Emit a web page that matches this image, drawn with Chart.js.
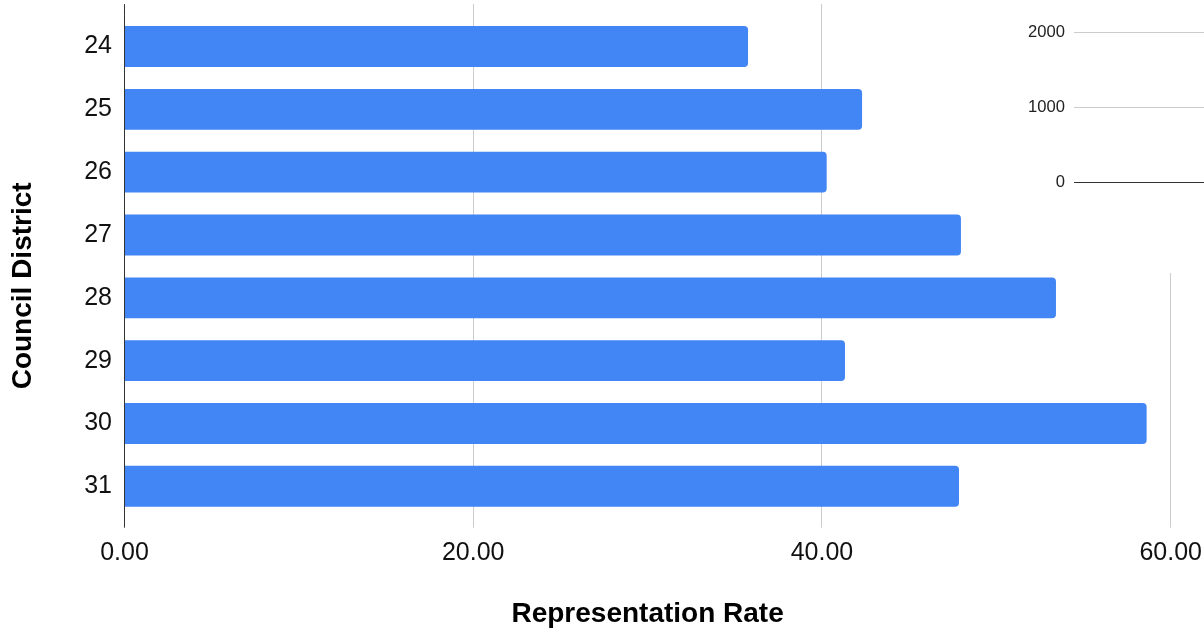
<!DOCTYPE html>
<html>
<head>
<meta charset="utf-8">
<script src="https://cdn.jsdelivr.net/npm/chart.js@4"></script>
<style>
body { margin: 0; background: #fff; }
#wrap { position: relative; width: 1204px; height: 631px; }
#inset { position: absolute; left: 1000px; top: 0; width: 204px; height: 273px; background: #fff; }
</style>
</head>
<body>
<div id="wrap">
    <canvas id="rates" width="1204" height="631"></canvas>
    <div id="inset"><canvas id="insetChart" width="204" height="273"></canvas></div>
</div>
<script>
// district labels and the rate
const districts = ['24', '25', '26', '27', '28', '29', '30', '31']
const repRates = [35.76, 42.30, 40.27, 47.97, 53.42, 41.32, 58.62, 47.86]
const rateTicks = [0, 20, 40, 60]
// the leftover axis of another chart that sits in the top right corner
const insetTicks = [0, 1000, 2000]

const fontFam = "'Liberation Sans', Arial, Helvetica, sans-serif"

function gridColor(ctx){
    if(ctx.tick && ctx.tick.value == 0){
        return '#333'
    }
    return '#ccc'
}

const ctx = document.getElementById('rates').getContext('2d')
const ratesChart = new Chart(ctx, {
    type: 'bar',
    data: {
        labels: districts,
        datasets: [{
            label: 'Representation Rate',
            data: repRates,
            backgroundColor: '#4285f4',
            borderRadius: 4,
            borderSkipped: 'start',
            barPercentage: 0.65,
            categoryPercentage: 1
        }]
    },
    options: {
        indexAxis: 'y',
        responsive: false,
        animation: false,
        layout: {
            padding: {top: 4.1, right: 33.3, bottom: 0, left: 0}
        },
        plugins: {
            legend: {display: false},
            tooltip: {enabled: false}
        },
        scales: {
            x: {
                position: 'bottom',
                min: rateTicks[0],
                max: rateTicks[rateTicks.length - 1],
                ticks: {
                    stepSize: rateTicks[1] - rateTicks[0],
                    padding: 2,
                    maxRotation: 0,
                    color: '#111',
                    font: {family: fontFam, size: 25, lineHeight: 1.84},
                    callback: v => Number(v).toFixed(2)
                },
                grid: {color: gridColor, tickLength: 10},
                border: {display: false},
                title: {
                    display: true,
                    text: 'Representation Rate',
                    color: '#000',
                    font: {family: fontFam, size: 28, weight: 'bold'},
                    padding: {top: 19.7, bottom: 0}
                }
            },
            xTop: {
                axis: 'x',
                position: 'top',
                min: rateTicks[0],
                max: rateTicks[rateTicks.length - 1],
                ticks: {display: false, stepSize: rateTicks[1] - rateTicks[0]},
                grid: {color: gridColor, tickLength: 11, drawOnChartArea: false},
                border: {display: false}
            },
            y: {
                ticks: {
                    padding: 0,
                    color: '#111',
                    font: {family: fontFam, size: 25}
                },
                grid: {drawOnChartArea: false, tickLength: 12.5, tickColor: 'rgba(0,0,0,0)'},
                border: {display: false},
                title: {
                    display: true,
                    text: 'Council District     ',
                    color: '#000',
                    font: {family: fontFam, size: 28, weight: 'bold'},
                    padding: {top: 6.2, bottom: 44.4}
                }
            }
        }
    }
})

const insetctx = document.getElementById('insetChart').getContext('2d')
const insetChart = new Chart(insetctx, {
    type: 'line',
    data: {
        labels: [''],
        datasets: [{data: [], pointRadius: 0}]
    },
    options: {
        responsive: false,
        animation: false,
        layout: {
            padding: {top: 32.3, right: 0, bottom: 90.7, left: 19.1}
        },
        plugins: {
            legend: {display: false},
            tooltip: {enabled: false}
        },
        scales: {
            x: {display: false},
            y: {
                min: insetTicks[0],
                max: insetTicks[insetTicks.length - 1],
                ticks: {
                    stepSize: insetTicks[1] - insetTicks[0],
                    padding: 9,
                    color: '#222',
                    font: {family: fontFam, size: 16.6},
                    callback: v => String(v)
                },
                grid: {color: gridColor, drawTicks: false},
                border: {display: false}
            }
        }
    }
})
</script>
</body>
</html>
